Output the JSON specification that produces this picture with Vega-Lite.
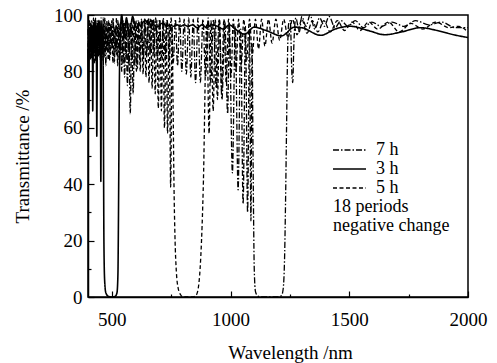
{
  "$schema": "https://vega.github.io/schema/vega-lite/v6.json",
  "width": 380,
  "height": 282,
  "autosize": {"type": "none"},
  "padding": {"left": 88, "top": 15, "right": 29, "bottom": 66},
  "background": "white",
  "config": {
    "view": {"stroke": "black", "strokeWidth": 1.5},
    "font": "Liberation Serif",
    "axis": {
      "domainColor": "black", "domainWidth": 1.5, "tickColor": "black", "tickWidth": 1.2,
      "labelFont": "Liberation Serif", "labelFontSize": 19, "labelColor": "black",
      "titleFont": "Liberation Serif", "titleFontSize": 19, "titleFontWeight": "normal", "titleColor": "black",
      "grid": false
    }
  },
  "datasets": {
    "h3": [
      {"x":400,"y":88},{"x":403,"y":65},{"x":406,"y":95},{"x":409,"y":88},{"x":412,"y":97},{"x":415,"y":85},{"x":418,"y":96},{"x":420,"y":66},{"x":423,"y":97},{"x":426,"y":88},{"x":429,"y":98},{"x":432,"y":84},{"x":435,"y":96},{"x":437,"y":57},{"x":440,"y":97},{"x":443,"y":90},{"x":446,"y":98},{"x":449,"y":86},{"x":452,"y":96},{"x":454,"y":41},{"x":457,"y":96},{"x":460,"y":88},{"x":463,"y":95},{"x":465,"y":60},{"x":467,"y":20},{"x":470,"y":6},{"x":475,"y":1.5},{"x":485,"y":0.3},{"x":500,"y":0},{"x":515,"y":0.3},{"x":522,"y":1.5},{"x":526,"y":8},{"x":528,"y":25},{"x":530,"y":50},{"x":532,"y":75},{"x":535,"y":90},{"x":538,"y":97},{"x":542,"y":100},{"x":547,"y":96},{"x":552,"y":92},{"x":557,"y":96},{"x":562,"y":99},{"x":568,"y":95},{"x":575,"y":93},{"x":582,"y":97},{"x":588,"y":99.5},{"x":596,"y":97},{"x":605,"y":95.5},{"x":614,"y":97},{"x":622,"y":96},{"x":632,"y":97.5},{"x":643,"y":98},{"x":654,"y":96.5},{"x":664,"y":98},{"x":676,"y":96.5},{"x":690,"y":96},{"x":698,"y":96},{"x":708,"y":97},{"x":718,"y":97},{"x":730,"y":96},{"x":745,"y":96.5},{"x":760,"y":96},{"x":775,"y":96.5},{"x":790,"y":96},{"x":805,"y":96.5},{"x":820,"y":96},{"x":840,"y":96.5},{"x":860,"y":95.5},{"x":880,"y":96.5},{"x":900,"y":95.5},{"x":920,"y":96.5},{"x":945,"y":96},{"x":970,"y":95},{"x":995,"y":96.5},{"x":1020,"y":95},{"x":1060,"y":93.2},{"x":1100,"y":95.7},{"x":1150,"y":94.5},{"x":1215,"y":92.6},{"x":1270,"y":95.7},{"x":1300,"y":95.5},{"x":1380,"y":92.8},{"x":1440,"y":95},{"x":1505,"y":96},{"x":1580,"y":94.5},{"x":1650,"y":93},{"x":1720,"y":94},{"x":1800,"y":95.5},{"x":1870,"y":94.5},{"x":1940,"y":93},{"x":2000,"y":92}
    ],
    "h5": [
      {"x":400,"y":90},{"x":404,"y":84},{"x":408,"y":97},{"x":412,"y":86},{"x":416,"y":98},{"x":420,"y":83},{"x":424,"y":96},{"x":428,"y":88},{"x":432,"y":99},{"x":436,"y":82},{"x":440,"y":95},{"x":444,"y":87},{"x":448,"y":98},{"x":452,"y":84},{"x":456,"y":97},{"x":460,"y":86},{"x":464,"y":99},{"x":468,"y":85},{"x":472,"y":96},{"x":476,"y":88},{"x":480,"y":98},{"x":485,"y":84},{"x":490,"y":97},{"x":495,"y":86},{"x":500,"y":98},{"x":505,"y":83},{"x":510,"y":96},{"x":515,"y":87},{"x":520,"y":99},{"x":525,"y":82},{"x":530,"y":97},{"x":536,"y":86},{"x":542,"y":98},{"x":548,"y":83},{"x":554,"y":97},{"x":560,"y":85},{"x":566,"y":98},{"x":572,"y":82},{"x":578,"y":97},{"x":584,"y":84},{"x":590,"y":99},{"x":596,"y":82},{"x":602,"y":98},{"x":608,"y":81},{"x":614,"y":98},{"x":620,"y":80},{"x":626,"y":98},{"x":632,"y":79},{"x":638,"y":98.5},{"x":644,"y":78},{"x":651,"y":98.5},{"x":657,"y":76},{"x":664,"y":98.5},{"x":670,"y":74},{"x":677,"y":98.5},{"x":683,"y":72},{"x":690,"y":98},{"x":696,"y":67},{"x":703,"y":98},{"x":709,"y":66},{"x":716,"y":98},{"x":722,"y":60},{"x":729,"y":97.5},{"x":735,"y":58},{"x":742,"y":97},{"x":748,"y":39},{"x":754,"y":96},{"x":758,"y":70},{"x":762,"y":40},{"x":766,"y":22},{"x":772,"y":9},{"x":780,"y":3},{"x":790,"y":0.8},{"x":800,"y":0},{"x":840,"y":0},{"x":855,"y":0.6},{"x":864,"y":3},{"x":872,"y":10},{"x":878,"y":20},{"x":883,"y":32},{"x":887,"y":45},{"x":891,"y":65},{"x":895,"y":85},{"x":900,"y":97},{"x":910,"y":58},{"x":918,"y":98},{"x":927,"y":66},{"x":936,"y":98.5},{"x":945,"y":70},{"x":954,"y":98.5},{"x":963,"y":73},{"x":972,"y":98.5},{"x":982,"y":76},{"x":992,"y":98.5},{"x":1002,"y":78},{"x":1012,"y":98.5},{"x":1023,"y":80},{"x":1034,"y":98.5},{"x":1045,"y":82},{"x":1056,"y":98.5},{"x":1068,"y":84},{"x":1080,"y":98.5},{"x":1092,"y":86},{"x":1105,"y":98.5},{"x":1118,"y":88},{"x":1131,"y":98.5},{"x":1145,"y":89},{"x":1160,"y":98.5},{"x":1175,"y":90},{"x":1191,"y":98.5},{"x":1207,"y":91},{"x":1224,"y":98.5},{"x":1242,"y":92},{"x":1261,"y":98.5},{"x":1280,"y":93},{"x":1300,"y":98.5},{"x":1322,"y":93.5},{"x":1345,"y":98},{"x":1368,"y":94},{"x":1393,"y":98},{"x":1420,"y":94},{"x":1450,"y":98},{"x":1480,"y":94.5},{"x":1512,"y":97.5},{"x":1545,"y":94.5},{"x":1582,"y":97.5},{"x":1620,"y":95},{"x":1665,"y":97.5},{"x":1710,"y":94},{"x":1760,"y":97},{"x":1810,"y":95},{"x":1865,"y":97.5},{"x":1920,"y":95.5},{"x":1960,"y":96},{"x":2000,"y":94}
    ],
    "h7": [
      {"x":400,"y":95},{"x":403,"y":86},{"x":407,"y":98},{"x":411,"y":84},{"x":415,"y":96},{"x":419,"y":88},{"x":423,"y":99},{"x":427,"y":83},{"x":431,"y":97},{"x":435,"y":87},{"x":439,"y":98},{"x":443,"y":85},{"x":447,"y":96},{"x":451,"y":89},{"x":455,"y":99},{"x":459,"y":84},{"x":463,"y":97},{"x":467,"y":86},{"x":471,"y":99},{"x":475,"y":82},{"x":479,"y":96},{"x":483,"y":87},{"x":487,"y":98},{"x":491,"y":84},{"x":496,"y":97},{"x":501,"y":88},{"x":506,"y":99},{"x":511,"y":83},{"x":516,"y":96},{"x":521,"y":86},{"x":526,"y":98},{"x":531,"y":85},{"x":536,"y":97},{"x":542,"y":80},{"x":548,"y":98},{"x":554,"y":78},{"x":560,"y":97},{"x":566,"y":75},{"x":572,"y":97},{"x":578,"y":65},{"x":584,"y":96},{"x":590,"y":72},{"x":597,"y":98},{"x":604,"y":80},{"x":611,"y":98},{"x":618,"y":84},{"x":625,"y":98.5},{"x":632,"y":85},{"x":640,"y":98.5},{"x":647,"y":86},{"x":655,"y":99},{"x":662,"y":86},{"x":670,"y":98.5},{"x":677,"y":86},{"x":685,"y":99},{"x":693,"y":85},{"x":701,"y":98.5},{"x":709,"y":85},{"x":717,"y":99},{"x":725,"y":84},{"x":733,"y":98.5},{"x":742,"y":84},{"x":750,"y":99},{"x":759,"y":83},{"x":768,"y":98.5},{"x":777,"y":82},{"x":786,"y":99},{"x":795,"y":80},{"x":805,"y":98.5},{"x":814,"y":79},{"x":824,"y":99},{"x":833,"y":78},{"x":843,"y":98.5},{"x":853,"y":76},{"x":863,"y":99},{"x":873,"y":76},{"x":884,"y":98.5},{"x":895,"y":78},{"x":906,"y":99},{"x":917,"y":76},{"x":928,"y":98.5},{"x":940,"y":74},{"x":952,"y":98.5},{"x":964,"y":70},{"x":976,"y":98},{"x":988,"y":65},{"x":995,"y":97},{"x":1008,"y":44},{"x":1020,"y":96},{"x":1032,"y":38},{"x":1043,"y":95},{"x":1053,"y":33},{"x":1063,"y":96},{"x":1072,"y":30},{"x":1080,"y":95},{"x":1086,"y":27},{"x":1091,"y":90},{"x":1094,"y":60},{"x":1097,"y":30},{"x":1100,"y":10},{"x":1105,"y":2},{"x":1115,"y":0.3},{"x":1130,"y":0},{"x":1200,"y":0},{"x":1215,"y":0.5},{"x":1222,"y":3},{"x":1228,"y":15},{"x":1232,"y":35},{"x":1236,"y":60},{"x":1240,"y":85},{"x":1245,"y":97},{"x":1252,"y":98},{"x":1258,"y":80},{"x":1262,"y":76},{"x":1267,"y":90},{"x":1275,"y":99},{"x":1290,"y":94},{"x":1300,"y":99.5},{"x":1318,"y":96},{"x":1335,"y":100},{"x":1355,"y":95},{"x":1375,"y":99},{"x":1395,"y":96},{"x":1415,"y":99.5},{"x":1440,"y":95.5},{"x":1465,"y":98},{"x":1495,"y":96},{"x":1525,"y":98},{"x":1560,"y":95.5},{"x":1595,"y":97.5},{"x":1635,"y":96},{"x":1680,"y":97.5},{"x":1730,"y":96},{"x":1780,"y":98},{"x":1835,"y":96.5},{"x":1890,"y":97.5},{"x":1945,"y":95.5},{"x":2000,"y":95.5}
    ]
  },
  "encoding": {
    "x": {
      "field": "x", "type": "quantitative",
      "scale": {"domain": [400, 2000], "nice": false, "zero": false},
      "axis": {
        "title": "Wavelength /nm", "titlePadding": 14, "titleX": 202,
        "values": [500, 750, 1000, 1250, 1500, 1750, 2000], "format": "d",
        "labelExpr": "datum.value % 500 === 0 ? datum.label : ''",
        "tickSize": {"condition": {"test": "datum.value % 500 === 0", "value": -6}, "value": -3},
        "labelPadding": 19, "labelFlush": false
      }
    },
    "y": {
      "field": "y", "type": "quantitative",
      "scale": {"domain": [0, 100], "nice": false},
      "axis": {
        "title": "Transmittance /%", "titlePadding": 21,
        "values": [0, 10, 20, 30, 40, 50, 60, 70, 80, 90, 100],
        "labelExpr": "datum.value % 20 === 0 ? datum.label : ''",
        "tickSize": {"condition": {"test": "datum.value % 20 === 0", "value": -6}, "value": -3},
        "labelPadding": 12
      }
    },
    "strokeDash": {
      "scale": {"domain": ["7 h", "3 h", "5 h"], "range": [[6, 2, 1.5, 2], [1, 0], [4, 2.5]]},
      "legend": {
        "orient": "none", "legendX": 245, "legendY": 126, "padding": 0,
        "title": ["18 periods", "negative change"], "titleOrient": "bottom",
        "titleFont": "Liberation Serif", "titleFontSize": 18, "titleFontWeight": "normal", "titleColor": "black",
        "titleLineHeight": 19, "titlePadding": 1, "titleAnchor": "start",
        "labelFont": "Liberation Serif", "labelFontSize": 18, "labelColor": "black", "labelOffset": 25,
        "symbolType": "M-1.8,0L4.8,0", "symbolSize": 100, "symbolStrokeColor": "black", "symbolStrokeWidth": 1.6, "symbolFillColor": "transparent",
        "rowPadding": 1
      }
    }
  },
  "layer": [
    {"data": {"name": "h7"}, "mark": {"type": "line", "color": "black", "strokeWidth": 1.3, "interpolate": "monotone"}, "encoding": {"strokeDash": {"datum": "7 h"}}},
    {"data": {"name": "h5"}, "mark": {"type": "line", "color": "black", "strokeWidth": 1.3, "interpolate": "monotone"}, "encoding": {"strokeDash": {"datum": "5 h"}}},
    {"data": {"name": "h3"}, "mark": {"type": "line", "color": "black", "strokeWidth": 1.6, "interpolate": "monotone"}, "encoding": {"strokeDash": {"datum": "3 h"}}}
  ]
}
